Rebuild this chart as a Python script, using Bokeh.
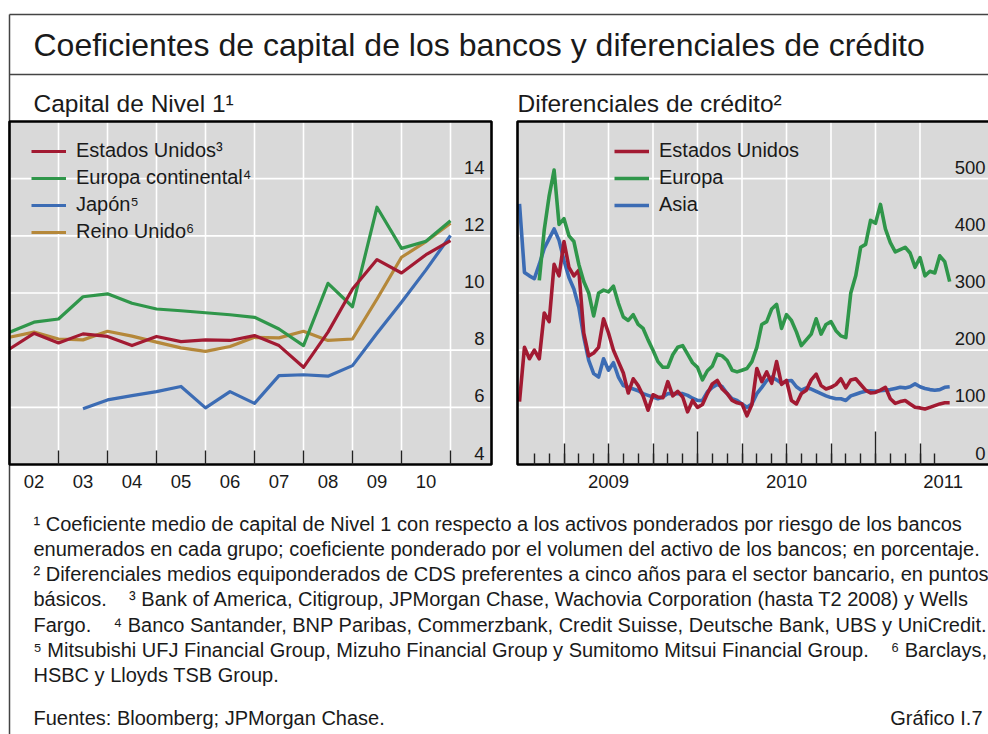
import numpy as np
from bokeh.plotting import figure
from bokeh.models import Range1d, LinearAxis, FixedTicker, Legend, LegendItem
from bokeh.core.properties import value
from bokeh.embed import file_html
from bokeh.resources import INLINE

nan = float("nan")
FONT = "Liberation Sans"

# ---------------- data: Tier 1 capital ratios (%), semiannual ----------------
cap_dates = [2002.0, 2002.5, 2003.0, 2003.5, 2004.0, 2004.5, 2005.0, 2005.5, 2006.0, 2006.5,
             2007.0, 2007.5, 2008.0, 2008.5, 2009.0, 2009.5, 2010.0, 2010.5, 2011.0]
cap_us = [8.04, 8.59, 8.25, 8.57, 8.48, 8.16, 8.48, 8.30, 8.36, 8.34,
          8.51, 8.16, 7.40, 8.63, 10.14, 11.17, 10.70, 11.34, 11.83]
cap_europe = [8.63, 8.98, 9.09, 9.87, 9.97, 9.64, 9.44, 9.38, 9.31, 9.24,
              9.15, 8.74, 8.16, 10.34, 9.52, 13.0, 11.56, 11.81, 12.53]
cap_japan = [nan, nan, nan, 5.95, 6.26, 6.41, 6.55, 6.73, 5.98, 6.55,
             6.14, 7.11, 7.14, 7.09, 7.46, 8.59, 9.68, 10.81, 12.01]
cap_uk = [8.45, 8.63, 8.39, 8.36, 8.66, 8.49, 8.28, 8.08, 7.96, 8.13,
          8.45, 8.43, 8.66, 8.34, 8.39, 9.79, 11.25, 11.80, 12.44]
cap_labels = ["Estados Unidos³", "Europa continental⁴", "Japón⁵", "Reino Unido⁶"]
cap_xtick_pos = [2002.5, 2003.5, 2004.5, 2005.5, 2006.5, 2007.5, 2008.5, 2009.5, 2010.5]
cap_xtick_labels = ["02", "03", "04", "05", "06", "07", "08", "09", "10"]
cap_year_bounds = [2003, 2004, 2005, 2006, 2007, 2008, 2009, 2010, 2011]
cap_yticks = [4, 6, 8, 10, 12, 14]
cap_ygrid = [6, 8, 10, 12, 14]

# ---------------- data: CDS spreads (basis points), ~10-day sampling ----------------
cds_dates = list(np.round(2009.0 + np.arange(88) / 36.0, 4))
cds_us = [110, 205, 185, 200, 185, 265, 250, 350, 330, 390,
          345, 330, 340, 230, 190, 195, 205, 255, 230, 200,
          180, 160, 125, 150, 138, 120, 95, 122, 118, 117,
          145, 120, 128, 118, 92, 112, 100, 105, 124, 141,
          147, 132, 124, 112, 108, 106, 85, 105, 168, 145,
          162, 142, 180, 140, 147, 112, 106, 124, 130, 148,
          158, 138, 132, 135, 140, 150, 134, 148, 150, 140,
          130, 125, 126, 130, 135, 115, 107, 110, 112, 106,
          100, 99, 97, 100, 103, 106, 108, 108]
cds_europe = [nan, nan, nan, nan, 322, 410, 470, 515, 420, 430,
              400, 390, 350, 320, 300, 260, 300, 305, 302, 312,
              282, 258, 252, 262, 245, 238, 218, 200, 180, 170,
              170, 192, 205, 208, 193, 178, 170, 148, 164, 172,
              193, 190, 182, 165, 162, 165, 168, 180, 205, 245,
              250, 272, 280, 238, 262, 252, 232, 208, 218, 228,
              255, 228, 245, 250, 234, 225, 222, 300, 330, 380,
              385, 427, 422, 455, 412, 388, 372, 376, 380, 370,
              345, 362, 330, 338, 335, 365, 355, 320]
cds_asia = [456, 336, 330, 325, 350, 378, 395, 412, 392, 357,
            327, 307, 275, 223, 182, 159, 153, 185, 165, 178,
            153, 138, 135, 132, 129, 124, 121, 118, 115, 118,
            124, 124, 124, 124, 121, 116, 112, 112, 127, 135,
            140, 136, 124, 115, 112, 106, 100, 106, 124, 135,
            147, 153, 148, 142, 146, 147, 136, 130, 134, 132,
            128, 124, 120, 117, 115, 115, 112, 120, 123, 126,
            128, 129, 128, 129, 130, 131, 133, 135, 134, 136,
            141, 136, 133, 131, 130, 131, 135, 136]
cds_labels = ["Estados Unidos", "Europa", "Asia"]
cds_xtick_pos = [2009.5, 2010.5, 2011.38]
cds_xtick_labels = ["2009", "2010", "2011"]
cds_month_ticks = [2009 + k / 12 for k in range(1, 29)]
cds_quarter_ticks = [2009.25, 2009.5, 2009.75, 2010.25, 2010.5, 2010.75, 2011.25]
cds_year_ticks = [2010, 2011]
cds_xgrid = [2009.25, 2009.5, 2009.75, 2010.0, 2010.25, 2010.5, 2010.75, 2011.0, 2011.25]
cds_yticks = [0, 100, 200, 300, 400, 500]
cds_ygrid = [100, 200, 300, 400, 500]

GAP = "\u00a0\u00a0\u00a0 "
TITLE = "Coeficientes de capital de los bancos y diferenciales de crédito"
SUB_LEFT = "Capital de Nivel 1¹"
SUB_RIGHT = "Diferenciales de crédito²"
FOOTNOTES = [
    "¹ Coeficiente medio de capital de Nivel 1 con respecto a los activos ponderados por riesgo de los bancos",
    "enumerados en cada grupo; coeficiente ponderado por el volumen del activo de los bancos; en porcentaje.",
    "² Diferenciales medios equiponderados de CDS preferentes a cinco años para el sector bancario, en puntos",
    "básicos." + GAP + "³ Bank of America, Citigroup, JPMorgan Chase, Wachovia Corporation (hasta T2 2008) y Wells",
    "Fargo." + GAP + "⁴ Banco Santander, BNP Paribas, Commerzbank, Credit Suisse, Deutsche Bank, UBS y UniCredit.",
    "⁵ Mitsubishi UFJ Financial Group, Mizuho Financial Group y Sumitomo Mitsui Financial Group." + GAP + "⁶ Barclays,",
    "HSBC y Lloyds TSB Group.",
]
SOURCE = "Fuentes: Bloomberg; JPMorgan Chase."
CHART_ID = "Gráfico I.7"

# ---------------- layout (canvas pixels, y downward) ----------------
W, H = 988, 734
RED, GREEN, BLUE, GOLD = "#a21a32", "#2f964a", "#3c6cb4", "#b5883a"
BG = "#d9d9d9"
INK = "#1a1a1a"

L_BOX = (9, 491, 121, 464)      # x0, x1, ytop, ybottom
R_BOX = (517, 1004, 121, 464)
L_DATA = (2002.0, 2002.0 + 482 / 49.0, 4.0, 16.0)
R_DATA = (2009.0 - 2 / 178.0, 2009.0 - 2 / 178.0 + 487 / 178.0, 0.0, 600.0)


def xrange_for(box, data):
    px0, px1 = box[0], box[1]
    d0, d1 = data[0], data[1]
    s = (d1 - d0) / (px1 - px0)
    return Range1d(start=d0 - px0 * s, end=d0 + (W - px0) * s)


def yrange_for(box, data, shift_px=0.0):
    ptop, pbot = box[2], box[3]
    d0, d1 = data[2], data[3]
    s = (d1 - d0) / (pbot - ptop)
    d = shift_px * s
    return Range1d(start=d0 - (H - pbot) * s - d, end=d0 + pbot * s - d)


def x_at(box, data, px):
    s = (data[1] - data[0]) / (box[1] - box[0])
    return data[0] + (px - box[0]) * s


p = figure(width=W, height=H, x_range=Range1d(0, W), y_range=Range1d(H, 0),
           x_axis_type=None, y_axis_type=None, min_border=0,
           toolbar_location=None, output_backend="svg")
p.outline_line_color = None
p.background_fill_color = "white"
p.border_fill_color = "white"

p.extra_x_ranges = {"lx": xrange_for(L_BOX, L_DATA), "rx": xrange_for(R_BOX, R_DATA)}
p.extra_y_ranges = {"ly": yrange_for(L_BOX, L_DATA), "ry": yrange_for(R_BOX, R_DATA),
                    "lyl": yrange_for(L_BOX, L_DATA, 11.5), "ryl": yrange_for(R_BOX, R_DATA, 11.5)}

# outer frame lines
p.segment(x0=[9, 9, 9], x1=[W, W, 9], y0=[14, 74, 14], y1=[14, 74, H],
          line_color="#444444", line_width=1.5)

# panel backgrounds
for box in (L_BOX, R_BOX):
    p.quad(left=box[0], right=box[1], top=box[2], bottom=box[3],
           fill_color=BG, line_color=None)

# grid lines
GRID = dict(line_color="white", line_width=1.6)
p.segment(x0=L_DATA[0], x1=L_DATA[1], y0=cap_ygrid, y1=cap_ygrid,
          x_range_name="lx", y_range_name="ly", **GRID)
p.segment(x0=cap_year_bounds, x1=cap_year_bounds, y0=L_DATA[2], y1=L_DATA[3],
          x_range_name="lx", y_range_name="ly", **GRID)
p.segment(x0=R_DATA[0], x1=R_DATA[1], y0=cds_ygrid, y1=cds_ygrid,
          x_range_name="rx", y_range_name="ry", **GRID)
p.segment(x0=cds_xgrid, x1=cds_xgrid, y0=R_DATA[2], y1=R_DATA[3],
          x_range_name="rx", y_range_name="ry", **GRID)

# left panel lines
LKW = dict(x_range_name="lx", y_range_name="ly", line_width=3.2, line_join="round")
r_uk = p.line(cap_dates, cap_uk, line_color=GOLD, **LKW)
r_jp = p.line(cap_dates, cap_japan, line_color=BLUE, **LKW)
r_eu = p.line(cap_dates, cap_europe, line_color=GREEN, **LKW)
r_us = p.line(cap_dates, cap_us, line_color=RED, **LKW)

# right panel lines
RKW = dict(x_range_name="rx", y_range_name="ry", line_width=3.6, line_join="round")
c_as = p.line(cds_dates, cds_asia, line_color=BLUE, **RKW)
c_us = p.line(cds_dates, cds_us, line_color=RED, **RKW)
c_eu = p.line(cds_dates, cds_europe, line_color=GREEN, **RKW)

# panel frames
for box in (L_BOX, R_BOX):
    p.quad(left=box[0], right=box[1], top=box[2], bottom=box[3],
           fill_color=None, line_color="black", line_width=2.6)

TICK_FONT = "18.5px"


def axis_common(ax):
    ax.axis_line_color = None
    ax.major_label_text_font = FONT
    ax.major_label_text_font_size = TICK_FONT
    ax.major_label_text_color = INK
    ax.major_tick_in = 0
    ax.major_tick_out = 0
    ax.major_tick_line_color = None
    ax.minor_tick_out = 0
    ax.minor_tick_line_color = "#222222"
    ax.minor_tick_line_width = 1.4
    return ax


# left panel x axis (labels mid-year, ticks at year bounds)
ax = axis_common(LinearAxis(x_range_name="lx", y_range_name="ly", fixed_location=L_DATA[2],
                            ticker=FixedTicker(ticks=cap_xtick_pos, minor_ticks=cap_year_bounds),
                            major_label_overrides=dict(zip(cap_xtick_pos, cap_xtick_labels))))
ax.minor_tick_in = 14
ax.major_label_standoff = 10
p.add_layout(ax, "below")

# right panel x axes
ax = axis_common(LinearAxis(x_range_name="rx", y_range_name="ry", fixed_location=R_DATA[2],
                            ticker=FixedTicker(ticks=cds_xtick_pos, minor_ticks=cds_month_ticks),
                            major_label_overrides=dict(zip(cds_xtick_pos, cds_xtick_labels))))
ax.minor_tick_in = 11
ax.major_label_standoff = 10
p.add_layout(ax, "below")
for ticks, height in ((cds_quarter_ticks, 21), (cds_year_ticks, 33)):
    ax = axis_common(LinearAxis(x_range_name="rx", y_range_name="ry", fixed_location=R_DATA[2],
                                ticker=FixedTicker(ticks=[], minor_ticks=ticks)))
    ax.minor_tick_in = height
    p.add_layout(ax, "below")

# y axes: labels inside the frame, right-aligned, just above each grid line
ax = axis_common(LinearAxis(x_range_name="lx", y_range_name="lyl",
                            fixed_location=x_at(L_BOX, L_DATA, 484),
                            ticker=FixedTicker(ticks=cap_yticks)))
ax.major_label_standoff = 0
p.add_layout(ax, "left")
ax = axis_common(LinearAxis(x_range_name="rx", y_range_name="ryl",
                            fixed_location=x_at(R_BOX, R_DATA, 985),
                            ticker=FixedTicker(ticks=cds_yticks)))
ax.major_label_standoff = 0
p.add_layout(ax, "left")

# legends
ITEM_H, ITEM_SP = 23, 4


def make_legend(labels, renderers, x_px, top_px):
    n = len(labels)
    height = n * ITEM_H + (n - 1) * ITEM_SP
    leg = Legend(items=[LegendItem(label=l, renderers=[r]) for l, r in zip(labels, renderers)],
                 location=(x_px, H - top_px - height), orientation="vertical",
                 glyph_width=35, glyph_height=20, label_height=20, spacing=ITEM_SP,
                 label_standoff=10, padding=0, margin=0,
                 label_text_font=FONT, label_text_font_size="20px", label_text_color=INK,
                 background_fill_alpha=0, border_line_color=None)
    p.add_layout(leg, "center")


make_legend(cap_labels, [r_us, r_eu, r_jp, r_uk], 31, 139)
make_legend(cds_labels, [c_us, c_eu, c_as], 614, 139)

# texts
p.text(x=[33], y=[44], text=[TITLE], text_font=value(FONT), text_font_size="32px",
       text_baseline="middle", text_color=INK)
p.text(x=[33, 517], y=[103, 103], text=[SUB_LEFT, SUB_RIGHT], text_font=value(FONT),
       text_font_size="24.5px", text_baseline="middle", text_color=INK)
p.text(x=[33] * len(FOOTNOTES), y=[523 + 25.3 * i for i in range(len(FOOTNOTES))], text=FOOTNOTES,
       text_font=value(FONT), text_font_size="20px", text_baseline="middle", text_color=INK)
p.text(x=[33], y=[717], text=[SOURCE], text_font=value(FONT), text_font_size="20px",
       text_baseline="middle", text_color=INK)
p.text(x=[982], y=[717], text=[CHART_ID], text_font=value(FONT), text_font_size="20px",
       text_baseline="middle", text_align="right", text_color=INK)

open("out.html", "w").write(file_html(p, INLINE))
